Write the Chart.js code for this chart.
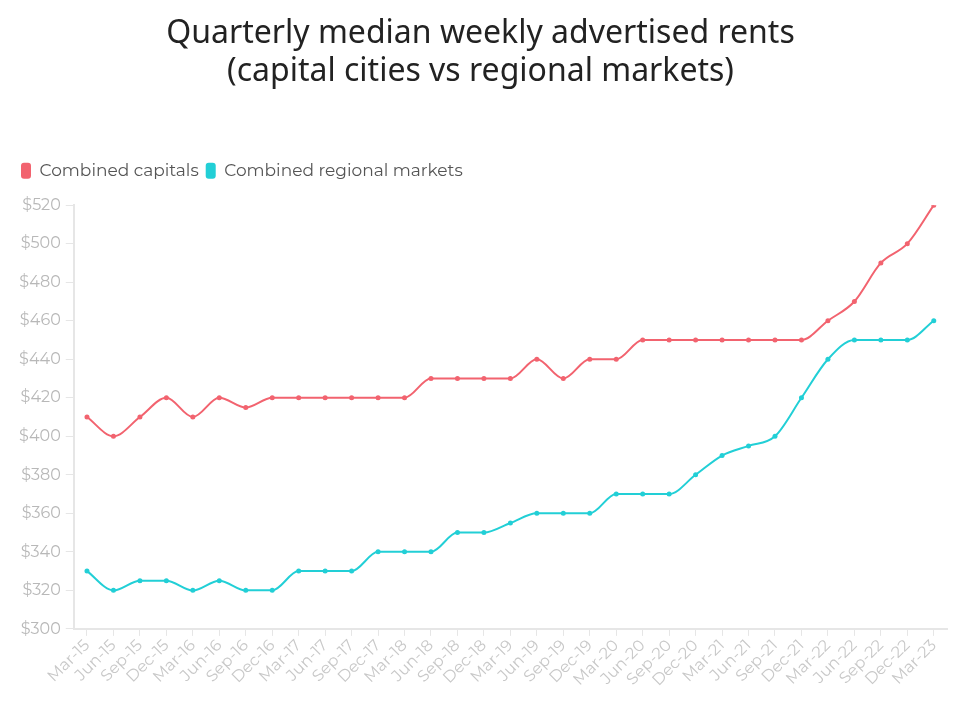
<!DOCTYPE html>
<html>
<head>
<meta charset="utf-8">
<script src="https://cdn.jsdelivr.net/npm/chart.js@4.4.0/dist/chart.umd.min.js"></script>
<style>
  html, body { margin: 0; padding: 0; background: #ffffff; }
  #wrap { width: 954px; height: 702px; position: relative; }
</style>
</head>
<body>
<div id="wrap"><canvas id="c" width="954" height="702"></canvas></div>
<script>
const titleLines = ["Quarterly median weekly advertised rents", "(capital cities vs regional markets)"];
const quarters = ["Mar-15","Jun-15","Sep-15","Dec-15","Mar-16","Jun-16","Sep-16","Dec-16","Mar-17","Jun-17","Sep-17","Dec-17","Mar-18","Jun-18","Sep-18","Dec-18","Mar-19","Jun-19","Sep-19","Dec-19","Mar-20","Jun-20","Sep-20","Dec-20","Mar-21","Jun-21","Sep-21","Dec-21","Mar-22","Jun-22","Sep-22","Dec-22","Mar-23"];
const capitals = [410,400,410,420,410,420,415,420,420,420,420,420,420,430,430,430,430,440,430,440,440,450,450,450,450,450,450,450,460,470,490,500,520];
const regional = [330,320,325,325,320,325,320,320,330,330,330,340,340,340,350,350,355,360,360,360,370,370,370,380,390,395,400,420,440,450,450,450,460];
const seriesNames = ["Combined capitals", "Combined regional markets"];
const yTicks = [300,320,340,360,380,400,420,440,460,480,500,520];

const capColor = "#f2636f";
const regColor = "#22cfd6";
const tickFont = "Montserrat, 'Noto Sans', Lato, sans-serif";

const legendGap = {
  id: "legendGap",
  beforeInit(chart) {
    const origFit = chart.legend.fit;
    chart.legend.fit = function () {
      origFit.call(this);
      this.height += 16;
    };
  }
};

new Chart(document.getElementById("c"), {
  type: "line",
  data: {
    labels: quarters,
    datasets: [
      { label: seriesNames[0], data: capitals, borderColor: capColor, backgroundColor: capColor,
        borderWidth: 2, pointRadius: 2.5, pointBorderWidth: 0, cubicInterpolationMode: "monotone", fill: false },
      { label: seriesNames[1], data: regional, borderColor: regColor, backgroundColor: regColor,
        borderWidth: 2, pointRadius: 2.5, pointBorderWidth: 0, cubicInterpolationMode: "monotone", fill: false }
    ]
  },
  options: {
    responsive: false,
    animation: false,
    devicePixelRatio: 1,
    layout: { padding: { left: 14, right: 7, top: 15, bottom: 12 } },
    plugins: {
      title: {
        display: true,
        text: titleLines,
        color: "#222222",
        font: { family: "'Noto Sans', sans-serif", size: 32, weight: "normal", lineHeight: 1.19 },
        padding: { top: 0, bottom: 64 }
      },
      legend: {
        display: true,
        align: "start",
        labels: {
          color: "#555555",
          font: { family: tickFont, size: 17 },
          boxWidth: 10,
          boxHeight: 16,
          useBorderRadius: true,
          borderRadius: 3,
          padding: 7,
          generateLabels(chart) {
            return chart.data.datasets.map((ds, i) => ({
              text: ds.label, fillStyle: ds.borderColor, strokeStyle: ds.borderColor,
              lineWidth: 0, hidden: false, datasetIndex: i, fontColor: "#555555", borderRadius: 3
            }));
          }
        }
      },
      tooltip: { enabled: false }
    },
    scales: {
      x: {
        type: "category",
        offset: true,
        grid: { display: true, drawOnChartArea: false, drawTicks: true, tickLength: 7, color: "#e6e6e6", offset: false },
        border: { color: "#e6e6e6", width: 2 },
        ticks: { color: "#c8c8c8", font: { family: tickFont, size: 16 }, maxRotation: 45, minRotation: 45, autoSkip: false, padding: 0 }
      },
      y: {
        min: 300, max: 520,
        afterBuildTicks(scale) { scale.ticks = yTicks.map(v => ({ value: v })); },
        grid: { display: true, drawOnChartArea: false, drawTicks: true, tickLength: 8, color: "#e6e6e6" },
        border: { color: "#e6e6e6", width: 2 },
        ticks: { color: "#b8b8b8", font: { family: tickFont, size: 16 }, padding: 5, callback: v => "$" + v }
      }
    }
  },
  plugins: [legendGap]
});
</script>
</body>
</html>
